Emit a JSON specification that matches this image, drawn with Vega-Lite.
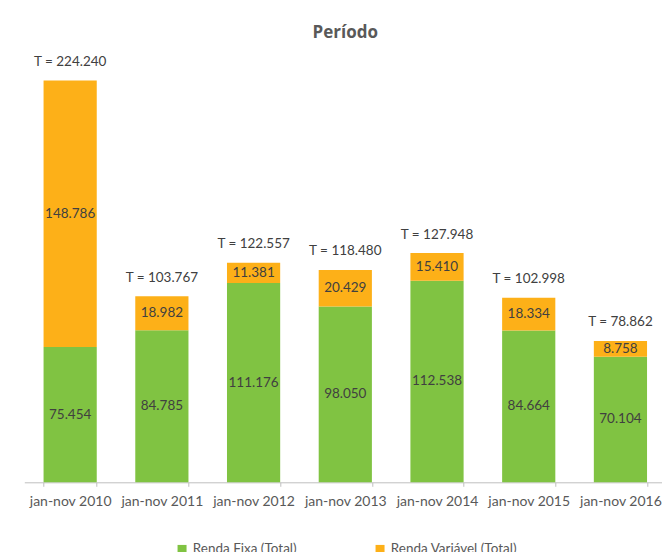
{
  "$schema": "https://vega.github.io/schema/vega-lite/v6.json",
  "width": 642,
  "height": 448,
  "autosize": {"type": "none"},
  "padding": {"left": 24.3, "top": 34.3, "right": 0, "bottom": 69.7},
  "background": "white",
  "title": {
    "text": "Período",
    "font": "Open Sans",
    "fontSize": 17,
    "fontWeight": "bold",
    "color": "#595959",
    "anchor": "middle",
    "offset": -8
  },
  "config": {
    "locale": {"number": {"decimal": ",", "thousands": ".", "grouping": [3], "currency": ["R$", ""]}},
    "view": {"stroke": null}
  },
  "datasets": {
    "vals": [
      {"period": "jan-nov 2010", "series": "Renda Fixa (Total)", "value": 75454},
      {"period": "jan-nov 2010", "series": "Renda Variável (Total)", "value": 148786},
      {"period": "jan-nov 2011", "series": "Renda Fixa (Total)", "value": 84785},
      {"period": "jan-nov 2011", "series": "Renda Variável (Total)", "value": 18982},
      {"period": "jan-nov 2012", "series": "Renda Fixa (Total)", "value": 111176},
      {"period": "jan-nov 2012", "series": "Renda Variável (Total)", "value": 11381},
      {"period": "jan-nov 2013", "series": "Renda Fixa (Total)", "value": 98050},
      {"period": "jan-nov 2013", "series": "Renda Variável (Total)", "value": 20429},
      {"period": "jan-nov 2014", "series": "Renda Fixa (Total)", "value": 112538},
      {"period": "jan-nov 2014", "series": "Renda Variável (Total)", "value": 15410},
      {"period": "jan-nov 2015", "series": "Renda Fixa (Total)", "value": 84664},
      {"period": "jan-nov 2015", "series": "Renda Variável (Total)", "value": 18334},
      {"period": "jan-nov 2016", "series": "Renda Fixa (Total)", "value": 70104},
      {"period": "jan-nov 2016", "series": "Renda Variável (Total)", "value": 8758}
    ],
    "totals": [
      {"period": "jan-nov 2010", "total": 224240, "label": "T = 224.240"},
      {"period": "jan-nov 2011", "total": 103767, "label": "T = 103.767"},
      {"period": "jan-nov 2012", "total": 122557, "label": "T = 122.557"},
      {"period": "jan-nov 2013", "total": 118480, "label": "T = 118.480"},
      {"period": "jan-nov 2014", "total": 127948, "label": "T = 127.948"},
      {"period": "jan-nov 2015", "total": 102998, "label": "T = 102.998"},
      {"period": "jan-nov 2016", "total": 78862, "label": "T = 78.862"}
    ]
  },
  "encoding": {
    "x": {
      "field": "period",
      "type": "nominal",
      "sort": null,
      "title": null,
      "scale": {"paddingInner": 0.42, "paddingOuter": 0.21},
      "axis": {
        "labelAngle": 0,
        "labelFont": "Lato",
        "labelFontSize": 14,
        "labelColor": "#595959",
        "labelPadding": 8,
        "domainColor": "#BFBFBF",
        "tickColor": "#BFBFBF",
        "tickSize": 4,
        "tickBand": "extent"
      }
    }
  },
  "layer": [
    {
      "data": {"name": "vals"},
      "mark": {"type": "bar"},
      "encoding": {
        "y": {"field": "value", "type": "quantitative", "stack": "zero", "scale": {"domain": [0, 250000], "nice": false, "zero": true}, "axis": null},
        "order": {"field": "series", "sort": "ascending"},
        "color": {
          "field": "series",
          "type": "nominal",
          "scale": {"domain": ["Renda Fixa (Total)", "Renda Variável (Total)"], "range": ["#80C342", "#FDB018"]},
          "legend": {
            "title": null,
            "orient": "none",
            "direction": "horizontal",
            "legendX": 151,
            "legendY": 508,
            "symbolType": "square",
            "symbolSize": 81,
            "symbolStrokeWidth": 0,
            "labelFont": "Lato",
            "labelFontSize": 13.5,
            "labelColor": "#595959",
            "columnPadding": 76,
            "labelLimit": 300
          }
        }
      }
    },
    {
      "data": {"name": "vals"},
      "transform": [
        {"stack": "value", "groupby": ["period"], "sort": [{"field": "series", "order": "ascending"}], "as": ["v0", "v1"]},
        {"calculate": "(datum.v0 + datum.v1) / 2", "as": "mid"}
      ],
      "mark": {"type": "text", "font": "Lato", "fontSize": 13.5, "color": "#404040", "baseline": "middle"},
      "encoding": {
        "y": {"field": "mid", "type": "quantitative"},
        "text": {"field": "value", "type": "quantitative", "format": ",d"}
      }
    },
    {
      "data": {"name": "totals"},
      "mark": {"type": "text", "font": "Lato", "fontSize": 13.5, "color": "#404040", "baseline": "middle", "dy": -18.5},
      "encoding": {
        "y": {"field": "total", "type": "quantitative"},
        "text": {"field": "label", "type": "nominal"}
      }
    }
  ]
}
